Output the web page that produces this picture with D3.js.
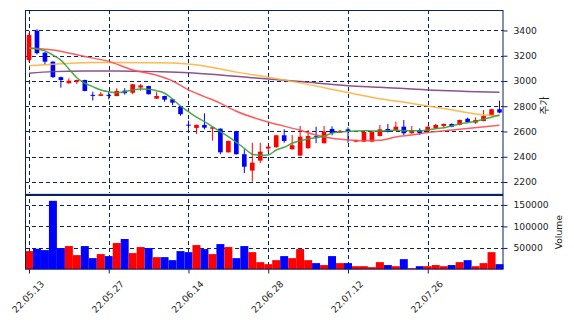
<!DOCTYPE html>
<html>
<head>
<meta charset="utf-8">
<script src="https://cdn.jsdelivr.net/npm/d3@7"></script>
<style>
  body { margin: 0; background: #fff; }
  svg { display: block; font-family: "DejaVu Sans", sans-serif; }
</style>
</head>
<body>
<svg id="chart" width="574" height="326"></svg>
<script>
// trading days
const dates = [
  '22.05.13','22.05.16','22.05.17','22.05.18','22.05.19','22.05.20','22.05.23','22.05.24','22.05.25','22.05.26',
  '22.05.27','22.05.30','22.05.31','22.06.02','22.06.03','22.06.07','22.06.08','22.06.09','22.06.10','22.06.13',
  '22.06.14','22.06.15','22.06.16','22.06.17','22.06.20','22.06.21','22.06.22','22.06.23','22.06.24','22.06.27',
  '22.06.28','22.06.29','22.06.30','22.07.01','22.07.04','22.07.05','22.07.06','22.07.07','22.07.08','22.07.11',
  '22.07.12','22.07.13','22.07.14','22.07.15','22.07.18','22.07.19','22.07.20','22.07.21','22.07.22','22.07.25',
  '22.07.26','22.07.27','22.07.28','22.07.29','22.08.01','22.08.02','22.08.03','22.08.04','22.08.05','22.08.08'
];
const open = [3166,3398,3224,3153,3030,2982,2995,3008,2890,2882, 2890,2881,2923,2907,2948,2960,2860,2881,2855,2797,
  2654,2628,2652,2622,2622,2435,2602,2420,2290,2369, 2465,2475,2570,2459,2409,2467,2562,2507,2620,2591,
  2617,2519,2519,2519,2564,2620,2612,2638,2586,2612, 2606,2625,2644,2660,2652,2701,2670,2683,2723,2776];
const high = [3380,3410,3230,3155,3035,3021,3010,3010,2915,2912, 2915,2942,2942,2976,2976,2962,2911,2883,2857,2800,
  2686,2655,2744,2636,2625,2528,2605,2459,2511,2511, 2482,2573,2617,2572,2644,2612,2638,2644,2641,2612,
  2633,2535,2600,2600,2652,2660,2678,2691,2644,2625, 2641,2660,2663,2663,2694,2710,2712,2770,2780,2844];
const low = [3150,3210,3127,3025,2947,2978,2976,2918,2845,2880, 2855,2878,2892,2895,2923,2893,2858,2836,2808,2725,
  2622,2580,2617,2527,2420,2432,2418,2271,2203,2350, 2440,2472,2511,2457,2407,2465,2507,2505,2570,2588,
  2511,2515,2515,2515,2560,2591,2610,2572,2583,2572, 2600,2620,2625,2633,2648,2672,2660,2680,2720,2744];
const close = [3364,3220,3153,3030,3008,3002,3008,2921,2887,2895, 2884,2921,2903,2974,2965,2895,2881,2852,2828,2737,
  2650,2652,2630,2633,2435,2525,2420,2321,2353,2440, 2480,2570,2525,2491,2559,2564,2558,2599,2588,2606,
  2601,2530,2596,2599,2617,2596,2638,2586,2612,2586, 2638,2652,2660,2638,2691,2675,2691,2723,2776,2750];
const volume = [42700,48200,45000,159500,49800,54400,33400,54400,26400,35800,
  31100,61400,70800,38100,52100,49800,28700,28700,21700,42700,
  40300,56700,47400,35800,59000,52100,26400,54400,40300,17100,
  12400,21700,31100,26400,47400,21700,14800,10300,31100,14800,
  14800,7700,7700,5400,17100,10300,7700,24000,3000,7700,
  7700,10300,7700,10300,17100,21700,7700,14800,40300,12400];

// moving averages
const ma5 = [3259,3253,3238,3205,3165,3095,3025,2982,2955,2929, 2915,2907,2915,2929,2937,2934,2923,2903,2857,2802,
  2757,2713,2678,2638,2599,2559,2514,2467,2420,2412, 2414,2453,2475,2507,2527,2541,2551,2564,2586,2596,
  2601,2604,2606,2604,2604,2606,2609,2606,2606,2604, 2612,2622,2630,2644,2660,2670,2681,2697,2713,2731];
const ma20Idx = [0,3,7,10,13,16,18,20,22,24,26,30,34,36,38,40,42,44,46,48,50,54,59];
const ma20 = [3259,3246,3193,3155,3087,3045,3000,2929,2876,2823,2760,2675,2610,2572,2546,2533,2527,2530,2557,2572,2591,2617,2649];
const ma60Idx = [0,3,7,11,16,20,24,26,30,34,40,44,48,50,54,56,59];
const ma60 = [3120,3132,3145,3146,3145,3135,3095,3070,3030,2985,2908,2860,2822,2802,2760,2739,2723];
const ma120Idx = [0,3,7,11,16,20,24,30,34,40,44,50,59];
const ma120 = [3061,3074,3079,3079,3074,3066,3048,3015,2995,2963,2950,2929,2911];

const tickIdx = [0,10,20,30,40,50];
const priceTicks = [2200,2400,2600,2800,3000,3200,3400];
const volTicks = [50000,100000,150000];

const navy = '#0b2262';
const upColor = '#ff0000', downColor = '#0000ff';

const svg = d3.select('#chart');
const left = 25, right = 503.5;
const mainTop = 10, mainBottom = 195, volBottom = 269.5;

const x = d3.scaleLinear().domain([-0.5, dates.length - 0.5]).range([left, right]);
const y = d3.scaleLinear().domain([2097, 3562]).range([mainBottom, mainTop]);
const yv = d3.scaleLinear().domain([0, 173000]).range([volBottom, mainBottom]);
const step = x(1) - x(0);

// grid
const grid = svg.append('g')
  .attr('stroke', navy).attr('stroke-width', 1).attr('stroke-dasharray', '4,3').attr('fill', 'none');
tickIdx.forEach(i => {
  const px = Math.round(x(i)) + 0.5;
  grid.append('line').attr('x1', px).attr('x2', px).attr('y1', mainTop).attr('y2', volBottom);
});
priceTicks.forEach(v => {
  const py = Math.round(y(v)) + 0.5;
  grid.append('line').attr('x1', left).attr('x2', right).attr('y1', py).attr('y2', py);
});
volTicks.forEach(v => {
  const py = Math.round(yv(v)) + 0.5;
  grid.append('line').attr('x1', left).attr('x2', right).attr('y1', py).attr('y2', py);
});

// volume bars
svg.append('g').selectAll('rect')
  .data(volume)
  .enter()
  .append('rect')
  .attr('x', (d, i) => x(i) - step / 2)
  .attr('width', step)
  .attr('y', d => yv(d))
  .attr('height', d => yv(0) - yv(d))
  .attr('fill', (d, i) => close[i] >= open[i] ? upColor : downColor);

// candles
const candles = svg.append('g').selectAll('g')
  .data(d3.range(dates.length))
  .enter()
  .append('g');
candles.append('line')
  .attr('x1', i => x(i)).attr('x2', i => x(i))
  .attr('y1', i => y(high[i])).attr('y2', i => y(low[i]))
  .attr('stroke', i => close[i] >= open[i] ? upColor : downColor)
  .attr('stroke-width', 1);
candles.append('rect')
  .attr('x', i => x(i) - step * 0.29)
  .attr('width', step * 0.58)
  .attr('y', i => y(Math.max(open[i], close[i])))
  .attr('height', i => Math.max(1, Math.abs(y(open[i]) - y(close[i]))))
  .attr('fill', i => close[i] >= open[i] ? upColor : downColor);

// moving averages
const maLine = d3.line().x(d => x(d[0])).y(d => y(d[1])).curve(d3.curveMonotoneX);
const maSeries = [
  { idx: ma120Idx, vals: ma120, color: '#7e3f7e' },
  { idx: ma60Idx, vals: ma60, color: '#ffb13b' },
  { idx: ma20Idx, vals: ma20, color: '#ff4a4a' },
  { idx: d3.range(ma5.length), vals: ma5, color: '#36a136' }
];
maSeries.forEach(s => {
  svg.append('path')
    .datum(s.idx.map((k, j) => [k, s.vals[j]]))
    .attr('d', maLine)
    .attr('fill', 'none')
    .attr('stroke', s.color)
    .attr('stroke-width', 1.5)
    .attr('stroke-opacity', 0.9);
});

// frames
svg.append('line').attr('x1', left).attr('x2', right).attr('y1', mainBottom - 1.5).attr('y2', mainBottom - 1.5)
  .attr('stroke', '#dcdcf0').attr('stroke-width', 1);
[[mainTop, mainBottom], [mainBottom, volBottom]].forEach(([t, b]) => {
  svg.append('rect')
    .attr('x', left + 0.5).attr('y', t + 0.5)
    .attr('width', right - left - 1).attr('height', b - t - 1)
    .attr('fill', 'none').attr('stroke', navy).attr('stroke-width', 1);
});

// right axes
const yAxis = svg.append('g')
  .attr('transform', `translate(${right},0)`)
  .call(d3.axisRight(y).tickValues(priceTicks).tickSize(4).tickPadding(6).tickFormat(d3.format('d')));
const vAxis = svg.append('g')
  .attr('transform', `translate(${right},0)`)
  .call(d3.axisRight(yv).tickValues(volTicks).tickSize(4).tickPadding(6).tickFormat(d3.format('d')));
[yAxis, vAxis].forEach(a => {
  a.select('.domain').remove();
  a.selectAll('line').attr('stroke', navy);
  a.selectAll('text').attr('font-size', '9.2px').attr('fill', '#222')
    .attr('font-family', '"DejaVu Sans", sans-serif');
});

// x axis
const xAxis = svg.append('g')
  .attr('transform', `translate(0,${volBottom})`)
  .call(d3.axisBottom(x).tickValues(tickIdx).tickSize(4).tickFormat(''));
xAxis.select('.domain').remove();
xAxis.selectAll('line').attr('stroke', navy);
svg.append('g').selectAll('text')
  .data(tickIdx)
  .enter()
  .append('text')
  .attr('transform', i => `translate(${x(i) - 1},${volBottom + 27}) rotate(-45)`)
  .attr('text-anchor', 'middle')
  .attr('dominant-baseline', 'central')
  .attr('font-size', '9.2px')
  .attr('fill', '#222')
  .text(i => dates[i]);

// axis labels
svg.append('text')
  .attr('transform', `translate(543.5,${(mainTop + mainBottom) / 2 + 3}) rotate(-90)`)
  .attr('text-anchor', 'middle').attr('dominant-baseline', 'central')
  .attr('font-family', '"Noto Sans CJK KR", sans-serif')
  .attr('font-size', '10px').attr('fill', '#222')
  .text('주가');
svg.append('text')
  .attr('transform', `translate(558.5,${(mainBottom + volBottom) / 2}) rotate(-90)`)
  .attr('text-anchor', 'middle').attr('dominant-baseline', 'central')
  .attr('font-size', '9.2px').attr('fill', '#222')
  .text('Volume');
</script>
</body>
</html>
